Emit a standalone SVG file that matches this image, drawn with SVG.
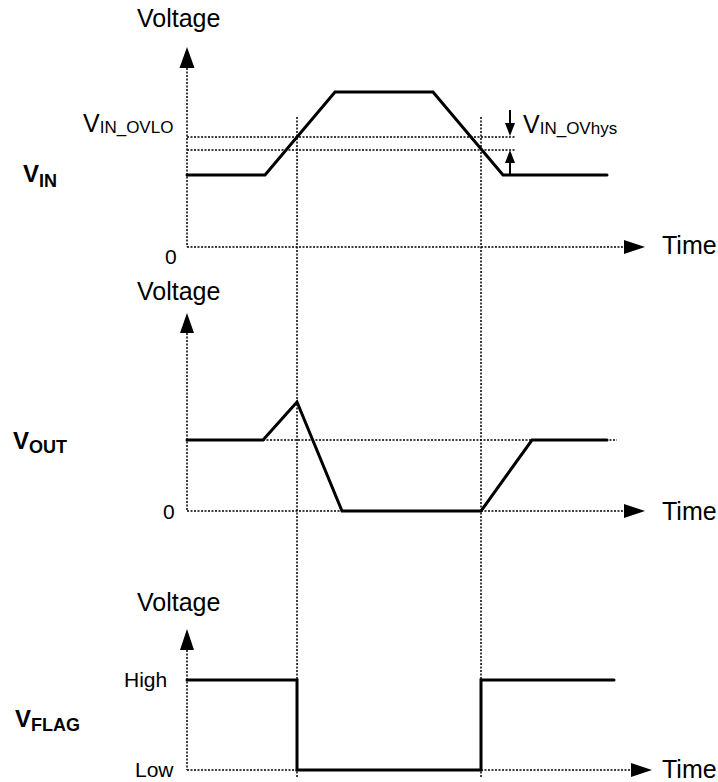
<svg xmlns="http://www.w3.org/2000/svg" width="718" height="782" viewBox="0 0 718 782">
<style>
text{font-family:"Liberation Sans",Arial,sans-serif;fill:#000}
.lbl{font-size:25px}
.sub{font-size:17px}
.big{font-size:24px;font-weight:bold}
.bsub{font-size:18px;font-weight:bold}
.tick{font-size:21px}
.dot{stroke:#000;stroke-width:1.5;stroke-dasharray:2 1.5;fill:none}
.wave{stroke:#000;stroke-width:3;fill:none;stroke-linejoin:miter;stroke-linecap:round}
.head{fill:#000}
</style>
<rect width="718" height="782" fill="#fff"/>

<g id="guides">
<line class="dot" x1="297" y1="117" x2="297" y2="778"/>
<line class="dot" x1="481" y1="117" x2="481" y2="778"/>
</g>

<g id="panel-vin">
<line class="dot" x1="187" y1="68" x2="187" y2="247"/>
<polygon class="head" points="187,47 179.5,68 194.5,68"/>
<line class="dot" x1="187" y1="247" x2="624" y2="247"/>
<polygon class="head" points="645,247 624,240 624,254"/>
<line class="dot" x1="187" y1="137" x2="515" y2="137"/>
<line class="dot" x1="187" y1="150" x2="515" y2="150"/>
<polyline class="wave" points="187,175 265,175 335,92 433,92 503,175 607,175"/>
<line x1="510" y1="110" x2="510" y2="124" stroke="#000" stroke-width="2"/>
<polygon class="head" points="510,136 505,123 515,123"/>
<line x1="510" y1="162" x2="510" y2="175" stroke="#000" stroke-width="2"/>
<polygon class="head" points="510,150 505,163 515,163"/>
<text class="lbl" x="137" y="27">Voltage</text>
<text class="lbl" x="662" y="254">Time</text>
<text class="tick" x="165" y="264">0</text>
<text class="lbl" x="83" y="132">V<tspan class="sub" dy="1">IN_OVLO</tspan></text>
<text class="lbl" x="523" y="133">V<tspan class="sub" dy="1">IN_OVhys</tspan></text>
<text class="big" x="23" y="182">V<tspan class="bsub" dy="5">IN</tspan></text>
</g>

<g id="panel-vout">
<line class="dot" x1="187" y1="333" x2="187" y2="511"/>
<polygon class="head" points="187,313 180,333 194,333"/>
<line class="dot" x1="187" y1="511" x2="624" y2="511"/>
<polygon class="head" points="645,511 624,504 624,518"/>
<line class="dot" x1="263" y1="440" x2="617" y2="440"/>
<polyline class="wave" points="187,440 263,440 297,402 342,511 481,511 532,440 607,440"/>
<text class="lbl" x="137" y="300">Voltage</text>
<text class="lbl" x="662" y="520">Time</text>
<text class="tick" x="163" y="519">0</text>
<text class="big" x="13" y="449">V<tspan class="bsub" dy="4">OUT</tspan></text>
</g>

<g id="panel-vflag">
<line class="dot" x1="187" y1="650" x2="187" y2="770"/>
<polygon class="head" points="187,629 180,650 194,650"/>
<line class="dot" x1="187" y1="770" x2="631" y2="770"/>
<polygon class="head" points="652,770 631,763 631,777"/>
<polyline class="wave" points="187,680 297,680 297,770 481,770 481,680 614,680"/>
<text class="lbl" x="137" y="611">Voltage</text>
<text class="lbl" x="662" y="778">Time</text>
<text class="tick" x="124" y="687">High</text>
<text class="tick" x="135" y="777">Low</text>
<text class="big" x="15" y="727">V<tspan class="bsub" dy="4">FLAG</tspan></text>
</g>
</svg>
